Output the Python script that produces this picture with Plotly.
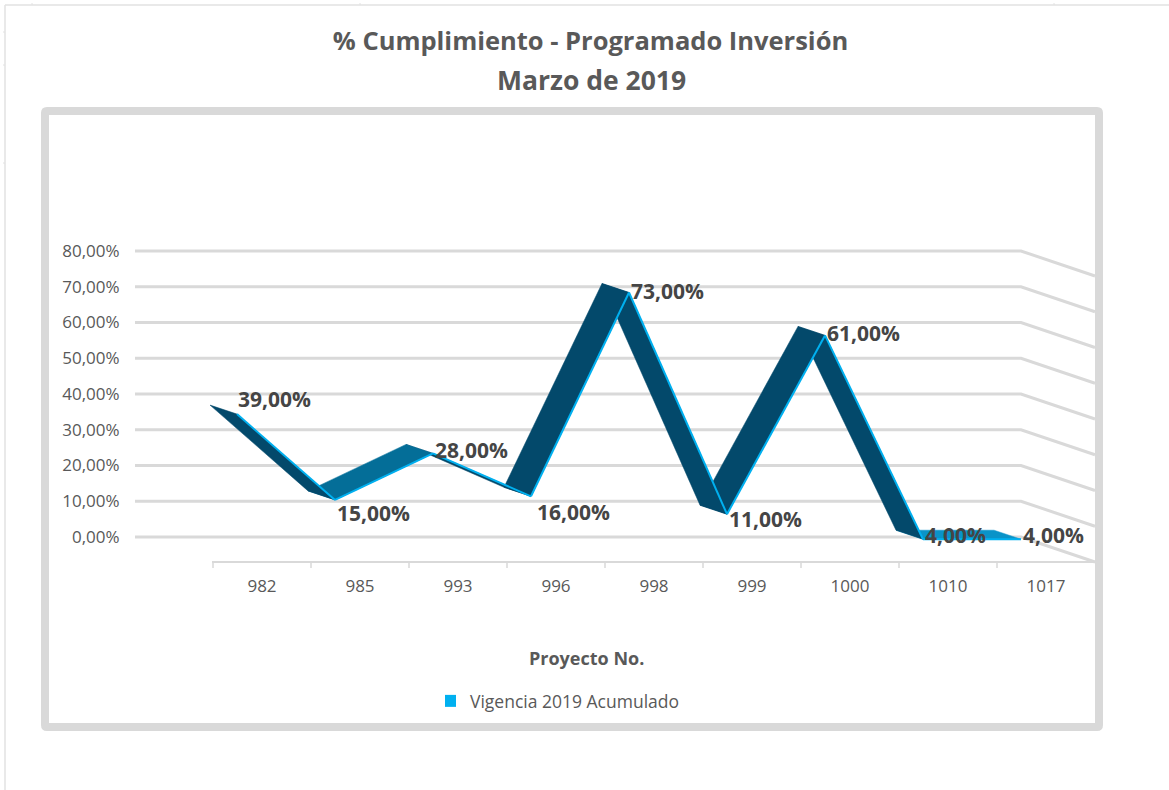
import plotly.graph_objects as go

categories = ["982", "985", "993", "996", "998", "999", "1000", "1010", "1017"]
values = [39, 15, 28, 16, 73, 11, 61, 4, 4]
value_labels = ["39,00%", "15,00%", "28,00%", "16,00%", "73,00%", "11,00%", "61,00%", "4,00%", "4,00%"]
y_ticks = [0, 10, 20, 30, 40, 50, 60, 70, 80]
y_tick_labels = ["0,00%", "10,00%", "20,00%", "30,00%", "40,00%", "50,00%", "60,00%", "70,00%", "80,00%"]
series_name = "Vigencia 2019 Acumulado"
title_line_1 = "% Cumplimiento - Programado Inversión"
title_line_2 = "Marzo de 2019"
x_title = "Proyecto No."

# layout constants (pixels)
W, H = 1169, 790
L, R, T, B = 130, 1099, 241, 572
PX_CAT = 98.0
CAT0 = 262.0
PX_PCT = 3.575
ZERO_PX = 537.0
x_min = (L - CAT0) / PX_CAT
x_max = (R - CAT0) / PX_CAT
y_max = (ZERO_PX - T) / PX_PCT
y_min = (ZERO_PX - B) / PX_PCT

grid_left = (135 - CAT0) / PX_CAT
wall_x = (1021 - CAT0) / PX_CAT
far_x = (1095 - CAT0) / PX_CAT
wall_dy = -25 / PX_PCT
floor_v = (ZERO_PX - 562) / PX_PCT

back_dx, back_dy = -52 / PX_CAT, -7.5 / PX_PCT
front_dx, front_dy = -25 / PX_CAT, -16.5 / PX_PCT

seg_colors = ["#03496b", "#046e98", "#03496b", "#03496b", "#03496b", "#03496b", "#03496b", "#0a93c8"]
label_dx = [12, 13, 13, 17, 13, 13, 13, 7, 7]
label_dy = [1.5, 30, 13, 32, 15, 21, 14, 12, 12]

FONT = "Open Sans"
GREY = "#595959"
GRID = "#d9d9d9"

fig = go.Figure()

# gridlines with the side wall
for v in y_ticks:
    fig.add_trace(go.Scatter(x=[grid_left, wall_x, far_x], y=[v, v, v + wall_dy], mode="lines",
                             line=dict(color=GRID, width=3), showlegend=False, hoverinfo="skip"))

# floor line and ticks
fig.add_trace(go.Scatter(x=[-0.5 - 0.01, far_x], y=[floor_v, floor_v], mode="lines",
                         line=dict(color=GRID, width=2), showlegend=False, hoverinfo="skip"))
for i in range(len(categories)):
    fig.add_trace(go.Scatter(x=[i - 0.5, i - 0.5], y=[floor_v, floor_v - 6 / PX_PCT], mode="lines",
                             line=dict(color=GRID, width=1.5), showlegend=False, hoverinfo="skip"))

# ribbon: drawn from the last segment to the first so earlier segments overlap later ones
for i in reversed(range(len(values) - 1)):
    bx = [i + back_dx, i + 1 + back_dx]
    by = [values[i] + back_dy, values[i + 1] + back_dy]
    fx = [i + front_dx, i + 1 + front_dx]
    fy = [values[i] + front_dy, values[i + 1] + front_dy]
    fig.add_trace(go.Scatter(x=bx + fx[::-1] + bx[:1], y=by + fy[::-1] + by[:1], mode="lines", fill="toself",
                             fillcolor=seg_colors[i], line=dict(color=seg_colors[i], width=0.5),
                             showlegend=False, hoverinfo="skip"))
    fig.add_trace(go.Scatter(x=fx, y=fy, mode="lines", line=dict(color="#00b0f0", width=2),
                             showlegend=False, hoverinfo="skip"))

# legend entry
fig.add_trace(go.Scatter(x=[None], y=[None], mode="markers", name=series_name,
                         marker=dict(symbol="square", size=12, color="#00b0f0")))


def px_x(p):
    return (p - L) / (R - L)


def px_y(p):
    return (B - p) / (B - T)


annotations = []
for i, v in enumerate(values):
    annotations.append(dict(x=i, y=v, xref="x", yref="y", text=value_labels[i], showarrow=False,
                            xshift=label_dx[i], yshift=-label_dy[i],
                            font=dict(family=FONT, size=21, color="#454545", weight="bold")))
annotations.append(dict(x=px_x(586), y=px_y(658), xref="paper", yref="paper", xanchor="center", yanchor="middle",
                        text=f"<b>{x_title}</b>", showarrow=False,
                        font=dict(family=FONT, size=18, color=GREY)))
annotations.append(dict(x=px_x(591), y=px_y(80), xref="paper", yref="paper", xanchor="center", yanchor="middle",
                        text=f"<b>{title_line_2}</b>", showarrow=False,
                        font=dict(family=FONT, size=26.5, color=GREY)))


def frame_path(x0, y0, x1, y1, r):
    a, b, c, d = px_x(x0), px_y(y0), px_x(x1), px_y(y1)
    rx, ry = r / (R - L), r / (B - T)
    return (f"M{a + rx},{b} L{c - rx},{b} Q{c},{b} {c},{b - ry} L{c},{d + ry} Q{c},{d} {c - rx},{d} "
            f"L{a + rx},{d} Q{a},{d} {a},{d + ry} L{a},{b - ry} Q{a},{b} {a + rx},{b} Z")


EDGE = "#e2e2e2"
shapes = [
    dict(type="path", xref="paper", yref="paper", path=frame_path(45, 111, 1099, 727, 2),
         line=dict(color=GRID, width=8), fillcolor="rgba(0,0,0,0)", layer="below"),
    dict(type="line", xref="paper", yref="paper", x0=px_x(5), x1=px_x(5), y0=px_y(5), y1=px_y(790),
         line=dict(color=EDGE, width=1.5), layer="below"),
    dict(type="line", xref="paper", yref="paper", x0=px_x(5), x1=px_x(1169), y0=px_y(5), y1=px_y(5),
         line=dict(color=EDGE, width=1.5), layer="below"),
]
for p in (32, 65, 163):
    shapes.append(dict(type="line", xref="paper", yref="paper", x0=px_x(3), x1=px_x(5), y0=px_y(p), y1=px_y(p),
                       line=dict(color=EDGE, width=1), layer="below"))
for p in (32, 360, 1054):
    shapes.append(dict(type="line", xref="paper", yref="paper", x0=px_x(p), x1=px_x(p), y0=px_y(3), y1=px_y(5),
                       line=dict(color=EDGE, width=1), layer="below"))

fig.update_layout(
    width=W, height=H, autosize=False,
    margin=dict(l=L, r=W - R, t=T, b=H - B, pad=0),
    paper_bgcolor="white", plot_bgcolor="rgba(0,0,0,0)",
    title=dict(text=f"<b>{title_line_1}</b>",
               x=590.5 / W, xanchor="center", y=1 - 41 / H, yanchor="middle",
               font=dict(family=FONT, size=25.5, color=GREY)),
    xaxis=dict(range=[x_min, x_max], tickmode="array", tickvals=list(range(len(categories))), ticktext=categories,
               showgrid=False, zeroline=False, showline=False, ticks="", ticklabelstandoff=2,
               tickfont=dict(family=FONT, size=17, color=GREY)),
    yaxis=dict(range=[y_min, y_max], tickmode="array", tickvals=y_ticks, ticktext=y_tick_labels,
               showgrid=False, zeroline=False, showline=False, ticks="outside", ticklen=6, tickcolor="rgba(0,0,0,0)",
               tickfont=dict(family=FONT, size=17, color=GREY)),
    legend=dict(x=px_x(445), y=px_y(701), xanchor="left", yanchor="middle", orientation="h", indentation=-15,
                bgcolor="rgba(0,0,0,0)", font=dict(family=FONT, size=17.5, color=GREY)),
    shapes=shapes,
    annotations=annotations,
)

fig.write_html("out.html", config={"displayModeBar": False},
               post_script="document.body.style.margin='0';document.documentElement.style.overflow='hidden';")
